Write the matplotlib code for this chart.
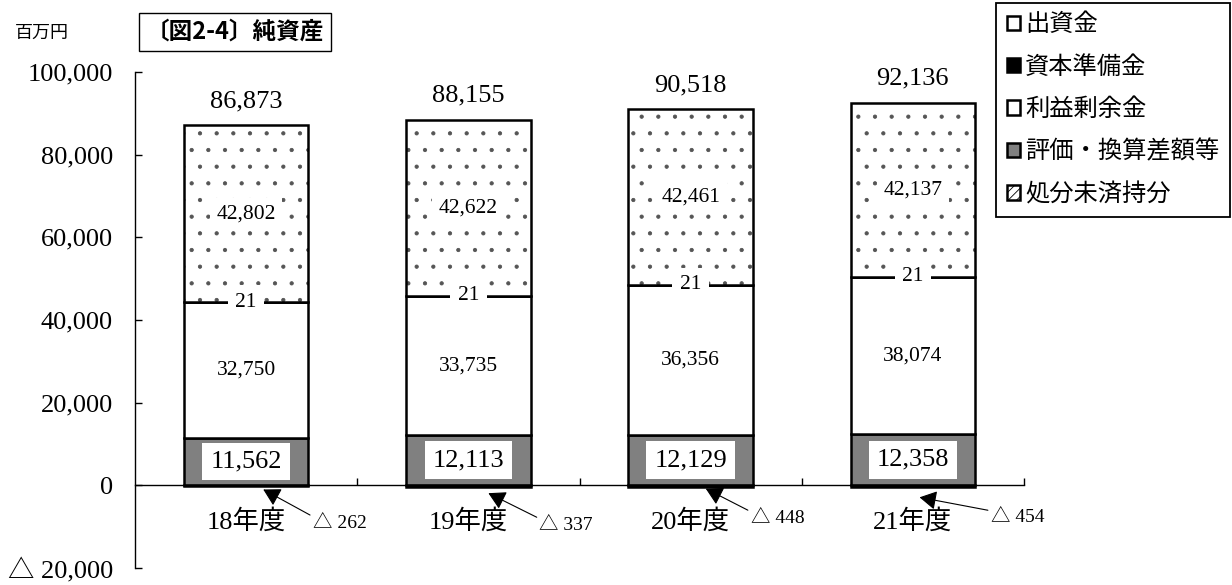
import matplotlib
matplotlib.use('Agg')
import matplotlib.pyplot as plt
from matplotlib.patches import Patch
import numpy as np

plt.rcParams['font.family'] = ['Liberation Serif', 'Noto Sans CJK JP', 'DejaVu Sans']
plt.rcParams['hatch.linewidth'] = 0.6

# ---- data ----
years = ['18年度', '19年度', '20年度', '21年度']
capital = [11562, 12113, 12129, 12358]        # gray bottom segment
retained = [32750, 33735, 36356, 38074]       # white middle segment
reserve = [21, 21, 21, 21]                    # thin black segment
undisposed = [42802, 42622, 42461, 42137]     # dotted top segment
valuation = [-262, -337, -448, -454]          # small negative segment
totals = [86873, 88155, 90518, 92136]
yticks = [-20000, 0, 20000, 40000, 60000, 80000, 100000]
ytick_labels = ['△ 20,000', '0', '20,000', '40,000', '60,000', '80,000', '100,000']
legend_labels = ['出資金', '資本準備金', '利益剰余金', '評価・換算差額等', '処分未済持分']

# ---- figure ----
fig = plt.figure(figsize=(12.32, 5.85), dpi=100)
ax = fig.add_axes([135/1232, 1-568/585, (1024-135)/1232, (568-72)/585])

x = np.arange(len(years))
w = 0.56
lw = 1.8
cap = np.array(capital)
ret = np.array(retained)
res = np.array(reserve)
und = np.array(undisposed)
b2 = cap + ret
b3 = b2 + res
top = b3 + und

ax.bar(x, valuation, w, color='black', edgecolor='black', linewidth=lw, zorder=2)
ax.bar(x, cap, w, color='#808080', edgecolor='black', linewidth=lw, zorder=2)
ax.bar(x, ret, w, bottom=cap, color='white', edgecolor='black', linewidth=lw, zorder=2)
ax.bar(x, res, w, bottom=b2, color='black', edgecolor='black', linewidth=lw, zorder=2)
ax.bar(x, und, w, bottom=b3, color='white', edgecolor='#555555', linewidth=0,
       hatch='.', zorder=2)
ax.bar(x, und, w, bottom=b3, fill=False, edgecolor='black', linewidth=lw, zorder=3)

for i in x:
    ax.text(i, cap[i]/2, f'{cap[i]:,}', ha='center', va='center', fontsize=19,
            bbox=dict(boxstyle='square,pad=0.3', fc='white', ec='none'), zorder=5)
    ax.text(i, cap[i] + ret[i]/2, f'{ret[i]:,}', ha='center', va='center',
            fontsize=15.5, zorder=5)
    ax.text(i, b2[i] + res[i]/2, f'{res[i]:,}', ha='center', va='center',
            fontsize=15.5,
            bbox=dict(boxstyle='square,pad=0.35', fc='white', ec='none'), zorder=5)
    ax.text(i, b3[i] + und[i]/2, f'{und[i]:,}', ha='center', va='center',
            fontsize=15.5,
            bbox=dict(boxstyle='square,pad=0.3', fc='white', ec='none'), zorder=5)
    ax.annotate(f'{totals[i]:,}', xy=(i, top[i]), xytext=(0, 13),
                textcoords='offset points', ha='center', va='baseline',
                fontsize=19, annotation_clip=False)

# negative value callouts
tip_dx = [0.077, 0.09, 0.068, 0.03]
tip_y = [-1000, -1900, -800, -2900]
txt_dx = [0.30, 0.32, 0.27, 0.35]
txt_y = [-9200, -9700, -8000, -7800]
for i in x:
    ax.annotate(f'△ {abs(valuation[i])}', xy=(i + tip_dx[i], tip_y[i]),
                xytext=(i + txt_dx[i], txt_y[i]), ha='left', va='center',
                fontsize=14, annotation_clip=False, zorder=6,
                arrowprops=dict(arrowstyle='-|>,head_length=0.8,head_width=0.45',
                                mutation_scale=13, lw=0.8, color='black',
                                shrinkA=0, shrinkB=0, relpos=(0, 0.9)))

# ---- axes styling ----
ax.set_xlim(-0.5, 3.5)
ax.set_ylim(-20000, 100000)
ax.spines['top'].set_visible(False)
ax.spines['right'].set_visible(False)
ax.spines['bottom'].set_position(('data', 0))
ax.spines['bottom'].set_linewidth(1.0)
ax.spines['left'].set_linewidth(1.0)

ax.set_yticks(yticks)
ax.set_yticklabels(ytick_labels)
ax.tick_params(axis='y', direction='in', length=5, width=1, pad=16, labelsize=19)

ax.set_xticks([0.5, 1.5, 2.5, 3.5])
ax.set_xticklabels([])
ax.set_xticks(x, minor=True)
ax.set_xticklabels(years, minor=True)
ax.tick_params(axis='x', which='major', direction='in', length=5, width=1)
ax.tick_params(axis='x', which='minor', length=0, pad=17, labelsize=19)

# ---- legend ----
handles = [
    Patch(facecolor='white', edgecolor='black', linewidth=1.8),
    Patch(facecolor='black', edgecolor='black', linewidth=1.8),
    Patch(facecolor='white', edgecolor='black', linewidth=1.8),
    Patch(facecolor='#808080', edgecolor='black', linewidth=1.8),
    Patch(facecolor='white', edgecolor='black', linewidth=1.8, hatch='////'),
]
leg = fig.legend(handles, legend_labels, loc='upper right',
                 bbox_to_anchor=(0.9985, 0.995), fontsize=17.5, frameon=True,
                 fancybox=False, edgecolor='black', framealpha=1,
                 handlelength=0.55, handleheight=0.55, handletextpad=0.2,
                 labelspacing=0.8, borderpad=0.45, borderaxespad=0)
leg.get_frame().set_linewidth(1.3)

# ---- titles ----
fig.text(235/1232, 1-32/585, '〔図2-4〕純資産', ha='center', va='center',
         fontsize=17, family=['Noto Sans CJK JP', 'DejaVu Sans'], fontweight='bold',
         bbox=dict(boxstyle='square,pad=0.3', fc='white', ec='black', lw=1))
fig.text(42/1232, 1-33/585, '百万円', ha='center', va='center', fontsize=13,
         family=['Noto Sans CJK JP', 'DejaVu Sans'])

fig.savefig('out.png', dpi=100)
